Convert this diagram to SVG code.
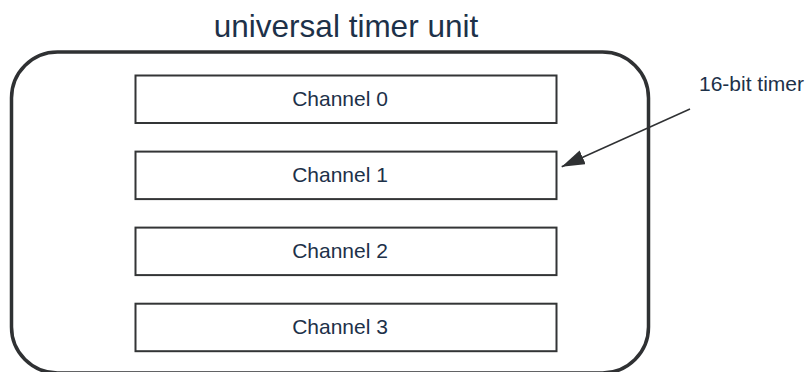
<svg xmlns="http://www.w3.org/2000/svg" width="806" height="372" viewBox="0 0 806 372">
  <style>
    .txt { font-family: "Liberation Sans", Arial, sans-serif; fill: #1d3149; }
    .chan { fill: #ffffff; stroke: #333536; stroke-width: 2; }
    .label { font-size: 21px; text-anchor: middle; }
  </style>
  <defs>
    <marker id="arrow" markerUnits="userSpaceOnUse" viewBox="0 0 23 15" refX="23" refY="7.5" markerWidth="23" markerHeight="15" orient="auto">
      <path d="M0,0 L23,7.5 L0,15 z" fill="#2f3133"/>
    </marker>
  </defs>
  <rect width="806" height="372" fill="#ffffff"/>
  <text class="txt" x="346" y="37" font-size="31.5" text-anchor="middle">universal timer unit</text>
  <g id="unit">
    <rect x="11.5" y="52" width="637" height="321" rx="46" ry="46" fill="none" stroke="#2f3133" stroke-width="3.5"/>
  </g>
  <g id="channel0">
    <rect class="chan" x="135.5" y="75.5" width="421" height="47.5"/>
    <text class="txt label" x="340" y="106">Channel 0</text>
  </g>
  <g id="channel1">
    <rect class="chan" x="135.5" y="151.6" width="421" height="47.5"/>
    <text class="txt label" x="340" y="182">Channel 1</text>
  </g>
  <g id="channel2">
    <rect class="chan" x="135.5" y="227.6" width="421" height="47.5"/>
    <text class="txt label" x="340" y="258">Channel 2</text>
  </g>
  <g id="channel3">
    <rect class="chan" x="135.5" y="303.7" width="421" height="47.5"/>
    <text class="txt label" x="340" y="334">Channel 3</text>
  </g>
  <g id="note">
    <text class="txt" x="699" y="90.5" font-size="21">16-bit timer</text>
  </g>
  <g id="connectors">
    <line x1="690" y1="109" x2="561.7" y2="166.7" stroke="#2f3133" stroke-width="1.5" marker-end="url(#arrow)"/>
  </g>
</svg>
